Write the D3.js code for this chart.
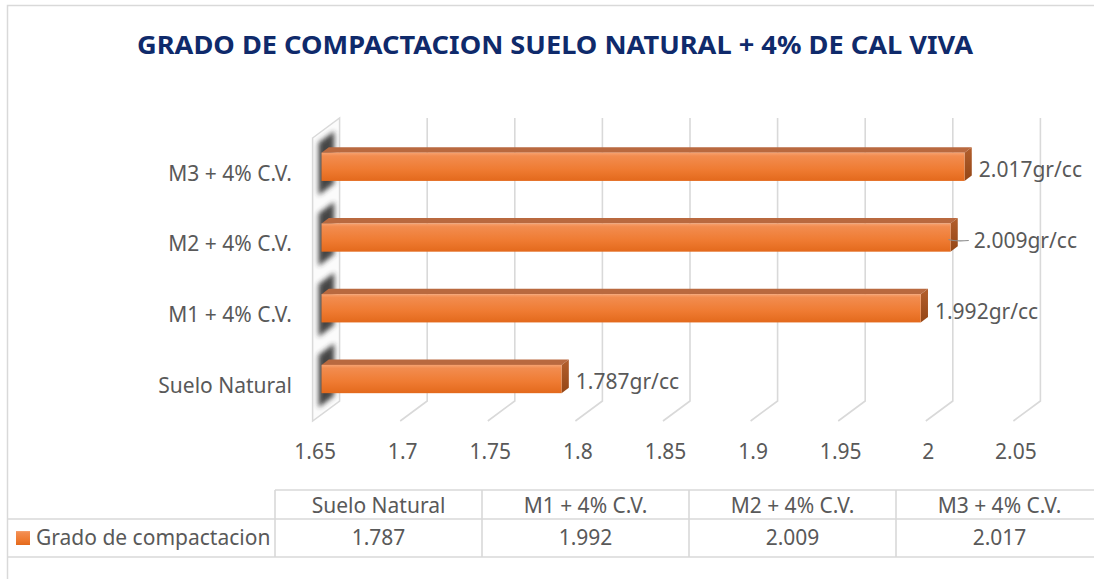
<!DOCTYPE html>
<html>
<head>
<meta charset="utf-8">
<script src="https://cdnjs.cloudflare.com/ajax/libs/d3/7.8.5/d3.min.js"></script>
<style>
  body { margin: 0; background: #fff; }
  svg { display: block; font-family: "Noto Sans", sans-serif; }
  .label { fill: #595959; font-size: 21px; }
</style>
</head>
<body>
<svg id="chart" width="1094" height="579"></svg>
<script>
/*
 * Chart data
 */
var TITLE = "GRADO DE COMPACTACION SUELO NATURAL + 4% DE CAL VIVA";
var SERIES_NAME = "Grado de compactacion";
var UNIT = "gr/cc";
var CATEGORIES = ["Suelo Natural", "M1 + 4% C.V.", "M2 + 4% C.V.", "M3 + 4% C.V."];
var VALUES = [1.787, 1.992, 2.009, 2.017];
var X_TICKS = [1.65, 1.7, 1.75, 1.8, 1.85, 1.9, 1.95, 2, 2.05];

/*
 * Layout
 */
var W = 1094, H = 579;
var FRONT_LEFT = 312.6, FRONT_RIGHT = 1013.4;
var FRONT_TOP = 138, FRONT_BOTTOM = 421;
// offset from the front plane to the back wall
var DEPTH_X = 27, DEPTH_Y = -20;
// bar front and back, as a fraction of the depth
var BAR_D0 = 0.33, BAR_D1 = 0.6;
// labels moved by hand in the original (with a leader line)
var LABEL_PUSH = { "M2 + 4% C.V.": 9 };

var GRID = "#d9d9d9";
var TEXT = "#595959";
var FONT_SIZE = "21px";

var svg = d3.select("#chart");

var x = d3.scaleLinear()
  .domain([X_TICKS[0], X_TICKS[X_TICKS.length - 1]])
  .range([FRONT_LEFT, FRONT_RIGHT]);

var y = d3.scaleBand()
  .domain(CATEGORIES.slice().reverse())
  .range([FRONT_TOP, FRONT_BOTTOM])
  .paddingInner(0.6)
  .paddingOuter(0.3);

// project (value, y on front plane, depth) to the page
function pt(v, yy, d) {
  return [x(v) + d * DEPTH_X, yy + d * DEPTH_Y];
}

function poly(points) {
  return points.map(p => p[0].toFixed(2) + "," + p[1].toFixed(2)).join(" ");
}

var bars = CATEGORIES.map((c, i) => ({ cat: c, value: VALUES[i] }));
var x0 = X_TICKS[0];

/*
 * Defs
 */
var defs = svg.append("defs");
var gFront = defs.append("linearGradient")
  .attr("id", "barFront").attr("x1", 0).attr("y1", 0).attr("x2", 0).attr("y2", 1);
gFront.append("stop").attr("offset", "0%").attr("stop-color", "#f7a270");
gFront.append("stop").attr("offset", "12%").attr("stop-color", "#f28c4f");
gFront.append("stop").attr("offset", "60%").attr("stop-color", "#ef7b32");
gFront.append("stop").attr("offset", "100%").attr("stop-color", "#e3691c");

var gEnd = defs.append("linearGradient")
  .attr("id", "barEnd").attr("x1", 0).attr("y1", 0).attr("x2", 0).attr("y2", 1);
gEnd.append("stop").attr("offset", "0%").attr("stop-color", "#b35f2d");
gEnd.append("stop").attr("offset", "100%").attr("stop-color", "#944616");

defs.append("filter").attr("id", "blur")
  .attr("x", "-50%").attr("y", "-50%").attr("width", "200%").attr("height", "200%")
  .append("feGaussianBlur").attr("stdDeviation", 2.6);

var wallPts = [
  pt(x0, FRONT_TOP, 0), pt(x0, FRONT_TOP, 1),
  pt(x0, FRONT_BOTTOM, 1), pt(x0, FRONT_BOTTOM, 0)
];
defs.append("clipPath").attr("id", "wallClip")
  .append("polygon").attr("points", poly(wallPts));

/*
 * Chart frame
 */
svg.append("rect")
  .attr("x", 7.5).attr("y", 5.5)
  .attr("width", W + 20).attr("height", H + 20)
  .attr("fill", "none").attr("stroke", GRID).attr("stroke-width", 1.5);

svg.append("text")
  .attr("x", 555).attr("y", 54)
  .attr("text-anchor", "middle")
  .attr("textLength", 836).attr("lengthAdjust", "spacingAndGlyphs")
  .style("font-size", "25px").style("font-weight", "bold")
  .attr("fill", "#0f2a6b")
  .text(TITLE);

/*
 * 3D plot area
 */
// side wall
svg.append("polygon")
  .attr("points", poly(wallPts))
  .attr("fill", "#fbfbfb").attr("stroke", GRID).attr("stroke-width", 1.5);

// bar shadows on the wall
svg.append("g").attr("clip-path", "url(#wallClip)")
  .selectAll("polygon")
  .data(bars)
  .enter().append("polygon")
    .attr("points", function (d) {
      var ya = y(d.cat) - 12, yb = y(d.cat) + y.bandwidth() + 12;
      return poly([pt(x0, ya, 0.22), pt(x0, ya, 0.8), pt(x0, yb, 0.8), pt(x0, yb, 0.22)]);
    })
    .attr("fill", "#333").attr("opacity", 0.9)
    .attr("filter", "url(#blur)");

// grid lines: back wall then floor
svg.append("g").selectAll("polyline")
  .data(X_TICKS.slice(1))
  .enter().append("polyline")
    .attr("points", d => poly([pt(d, FRONT_TOP, 1), pt(d, FRONT_BOTTOM, 1), pt(d, FRONT_BOTTOM, 0)]))
    .attr("fill", "none").attr("stroke", GRID).attr("stroke-width", 1.6);

// bars
var bg = svg.append("g").selectAll("g")
  .data(bars)
  .enter().append("g");

bg.append("polygon")
  .attr("points", function (d) {
    var y0 = y(d.cat);
    return poly([pt(x0, y0, BAR_D0), pt(d.value, y0, BAR_D0), pt(d.value, y0, BAR_D1), pt(x0, y0, BAR_D1)]);
  })
  .attr("fill", "#b9693f");

bg.append("polygon")
  .attr("points", function (d) {
    var y0 = y(d.cat), y1 = y0 + y.bandwidth();
    return poly([pt(d.value, y0, BAR_D0), pt(d.value, y0, BAR_D1), pt(d.value, y1, BAR_D1), pt(d.value, y1, BAR_D0)]);
  })
  .attr("fill", "url(#barEnd)");

bg.append("rect")
  .attr("x", d => pt(x0, 0, BAR_D0)[0])
  .attr("y", d => pt(x0, y(d.cat), BAR_D0)[1])
  .attr("width", d => x(d.value) - x(x0))
  .attr("height", y.bandwidth())
  .attr("fill", "url(#barFront)");

// data labels
function labelX(d) {
  return pt(d.value, 0, BAR_D1)[0] + 7 + (LABEL_PUSH[d.cat] || 0);
}
function labelY(d) {
  return pt(x0, y(d.cat) + y.bandwidth() / 2, BAR_D0)[1] + 3;
}

bg.filter(d => LABEL_PUSH[d.cat])
  .append("path")
  .attr("d", function (d) {
    var p = pt(d.value, y(d.cat) + y.bandwidth() / 2, BAR_D0);
    return "M" + (p[0] - 2) + "," + (labelY(d) - 1) +
      " Q" + (p[0] + 4) + "," + (labelY(d) + 1) + " " + (labelX(d) - 5) + "," + (labelY(d));
  })
  .attr("fill", "none").attr("stroke", "#8c8c8c").attr("stroke-width", 1.2);

bg.append("text")
  .attr("class", "label")
  .attr("x", labelX)
  .attr("y", labelY)
  .attr("dy", "0.35em")
  .text(d => d.value.toFixed(3) + UNIT);

/*
 * Axes
 */
var xg = svg.append("g")
  .attr("transform", "translate(2,452)")
  .call(d3.axisBottom(x).tickValues(X_TICKS).tickSize(0).tickPadding(0).tickFormat(d => String(d)));
xg.select(".domain").remove();
xg.selectAll("text")
  .attr("class", "label").attr("y", 0).attr("dy", "0.35em")
  .attr("fill", TEXT).style("font-family", "Noto Sans").style("font-size", FONT_SIZE);

var yg = svg.append("g")
  .attr("transform", "translate(292,0)")
  .call(d3.axisLeft(y).tickSize(0).tickPadding(0));
yg.select(".domain").remove();
yg.selectAll("text")
  .attr("class", "label").attr("x", 0).attr("dy", "0.35em")
  .attr("fill", TEXT).style("font-family", "Noto Sans").style("font-size", FONT_SIZE);

/*
 * Data table
 */
var TABLE_X = 275, COL_W = 207;
var ROW_TOP = 490, ROW_MID = 519, ROW_BOT = 557;

var tb = svg.append("g").attr("stroke", GRID).attr("stroke-width", 1.6);
tb.append("line").attr("x1", TABLE_X).attr("x2", W).attr("y1", ROW_TOP).attr("y2", ROW_TOP);
tb.append("line").attr("x1", 7.5).attr("x2", W).attr("y1", ROW_MID).attr("y2", ROW_MID);
tb.append("line").attr("x1", 7.5).attr("x2", W).attr("y1", ROW_BOT).attr("y2", ROW_BOT);
tb.selectAll(".col")
  .data(d3.range(CATEGORIES.length + 1))
  .enter().append("line")
    .attr("x1", i => TABLE_X + i * COL_W).attr("x2", i => TABLE_X + i * COL_W)
    .attr("y1", ROW_TOP).attr("y2", ROW_BOT);

svg.append("g").selectAll("text")
  .data(CATEGORIES)
  .enter().append("text")
    .attr("class", "label")
    .attr("x", (d, i) => TABLE_X + (i + 0.5) * COL_W)
    .attr("y", (ROW_TOP + ROW_MID) / 2 + 1)
    .attr("dy", "0.35em")
    .attr("text-anchor", "middle")
    .text(d => d);

svg.append("g").selectAll("text")
  .data(VALUES)
  .enter().append("text")
    .attr("class", "label")
    .attr("x", (d, i) => TABLE_X + (i + 0.5) * COL_W)
    .attr("y", (ROW_MID + ROW_BOT) / 2)
    .attr("dy", "0.35em")
    .attr("text-anchor", "middle")
    .text(d => d3.format(".3f")(d));

// legend key
svg.append("rect")
  .attr("x", 16).attr("y", 531).attr("width", 14).attr("height", 14)
  .attr("fill", "url(#barFront)");
svg.append("text")
  .attr("class", "label")
  .attr("x", 36).attr("y", (ROW_MID + ROW_BOT) / 2)
  .attr("dy", "0.35em")
  .text(SERIES_NAME);
</script>
</body>
</html>
